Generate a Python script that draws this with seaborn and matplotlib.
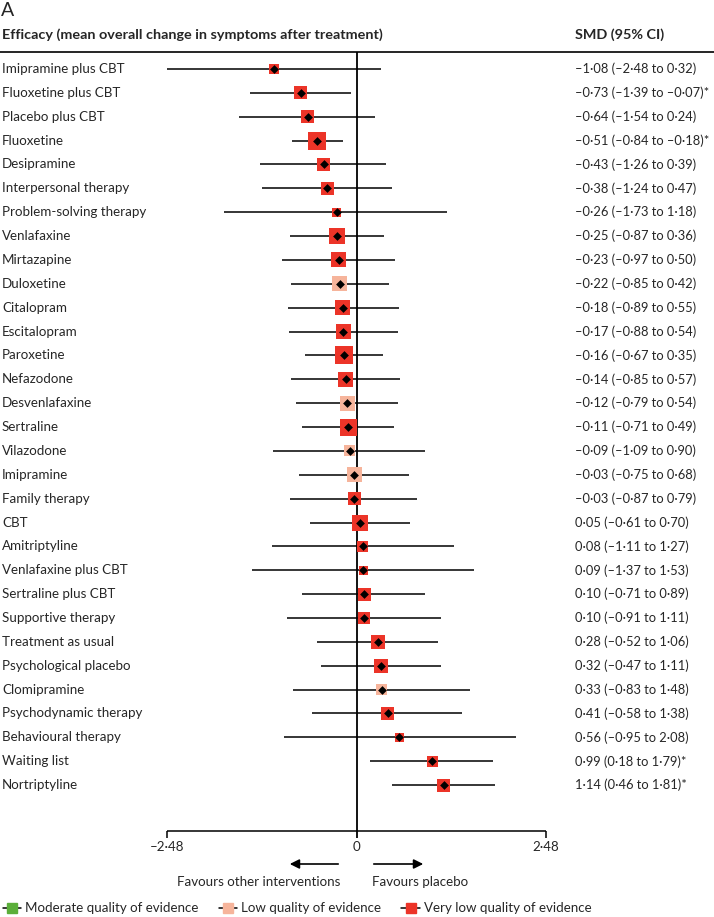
import pandas as pd
import matplotlib.pyplot as plt
from matplotlib.lines import Line2D
import seaborn as sns

treatments = [
    'Imipramine plus CBT', 'Fluoxetine plus CBT', 'Placebo plus CBT', 'Fluoxetine',
    'Desipramine', 'Interpersonal therapy', 'Problem-solving therapy', 'Venlafaxine',
    'Mirtazapine', 'Duloxetine', 'Citalopram', 'Escitalopram', 'Paroxetine',
    'Nefazodone', 'Desvenlafaxine', 'Sertraline', 'Vilazodone', 'Imipramine',
    'Family therapy', 'CBT', 'Amitriptyline', 'Venlafaxine plus CBT',
    'Sertraline plus CBT', 'Supportive therapy', 'Treatment as usual',
    'Psychological placebo', 'Clomipramine', 'Psychodynamic therapy',
    'Behavioural therapy', 'Waiting list', 'Nortriptyline',
]
smd = [-1.08, -0.73, -0.64, -0.51, -0.43, -0.38, -0.26, -0.25, -0.23, -0.22, -0.18,
       -0.17, -0.16, -0.14, -0.12, -0.11, -0.09, -0.03, -0.03, 0.05, 0.08, 0.09,
       0.10, 0.10, 0.28, 0.32, 0.33, 0.41, 0.56, 0.99, 1.14]
ci_low = [-2.48, -1.39, -1.54, -0.84, -1.26, -1.24, -1.73, -0.87, -0.97, -0.85, -0.89,
          -0.88, -0.67, -0.85, -0.79, -0.71, -1.09, -0.75, -0.87, -0.61, -1.11, -1.37,
          -0.71, -0.91, -0.52, -0.47, -0.83, -0.58, -0.95, 0.18, 0.46]
ci_high = [0.32, -0.07, 0.24, -0.18, 0.39, 0.47, 1.18, 0.36, 0.50, 0.42, 0.55,
           0.54, 0.35, 0.57, 0.54, 0.49, 0.90, 0.68, 0.79, 0.70, 1.27, 1.53,
           0.89, 1.11, 1.06, 1.11, 1.48, 1.38, 2.08, 1.79, 1.81]
quality = ['Very low'] * 9 + ['Low'] + ['Very low'] * 4 + ['Low', 'Very low', 'Low', 'Low'] \
    + ['Very low'] * 8 + ['Low'] + ['Very low'] * 4
# square side (weight), in pixels
weight = [10, 13, 13, 18, 13, 13, 9, 16, 15, 15, 15, 15, 18, 15, 15, 17, 11, 15, 13,
          16, 11, 9, 13, 12, 14, 14, 11, 13, 9, 11, 13]

quality_colors = {'Moderate': '#5BAF3A', 'Low': '#F6B49B', 'Very low': '#EC3428'}
quality_labels = {'Moderate': 'Moderate quality of evidence',
                  'Low': 'Low quality of evidence',
                  'Very low': 'Very low quality of evidence'}
axis_ticks = [-2.48, 0, 2.48]
tick_labels = ['\u20132\u00b748', '0', '2\u00b748']

df = pd.DataFrame({'treatment': treatments, 'smd': smd, 'lo': ci_low, 'hi': ci_high,
                   'quality': quality, 'weight': weight})
df['row'] = range(len(df))


def fmt(v):
    return f'{v:.2f}'.replace('-', '\u2013').replace('.', '\u00b7')


sns.set_theme(style='white')
plt.rcParams['font.family'] = ['Lato', 'DejaVu Sans']

fig = plt.figure(figsize=(7.14, 9.17), dpi=100)
ax = fig.add_axes([0, 0, 1, 1])

# layout in pixels -> data units
px = 76.5
x0 = 356.5
row_h = 23.87
def xp(p):
    return (p - x0) / px
def yp(p):
    return (p - 69) / row_h

ax.hlines(df['row'], df['lo'], df['hi'], color='black', lw=1.1, zorder=1)
ax.vlines(0, yp(52), yp(838), color='black', lw=1.3, zorder=1)
ax.hlines(yp(831), axis_ticks[0], axis_ticks[-1], color='black', lw=1.1)
ax.vlines([axis_ticks[0], axis_ticks[-1]], yp(831), yp(838), color='black', lw=1.1)

sns.scatterplot(data=df, x='smd', y='row', hue='quality', palette=quality_colors,
                size='weight', sizes={w: (w * 0.72) ** 2 for w in set(weight)},
                marker='s', linewidth=0, legend=False, ax=ax, zorder=2)
sns.scatterplot(data=df, x='smd', y='row', color='black', marker='D', s=20,
                linewidth=0, legend=False, ax=ax, zorder=3)

ax.set_xlim(xp(0), xp(714))
ax.set_ylim(yp(917), yp(0))
ax.axis('off')

fs = 9.6
for _, r in df.iterrows():
    ax.text(xp(2), r['row'], r['treatment'], fontsize=fs, va='center', ha='left')
    star = '*' if (r['hi'] < 0 or r['lo'] > 0) else ''
    ax.text(xp(575), r['row'],
            f"{fmt(r['smd'])} ({fmt(r['lo'])} to {fmt(r['hi'])}){star}",
            fontsize=9.3, va='center', ha='left')

for t, lab in zip(axis_ticks, tick_labels):
    ax.text(t, yp(847), lab, fontsize=fs, ha='center', va='center')

ax.text(xp(1), yp(11), 'A', fontsize=14, ha='left', va='center')
ax.text(xp(2), yp(35), 'Efficacy (mean overall change in symptoms after treatment)',
        fontsize=10.4, fontweight='bold', ha='left', va='center')
ax.text(xp(575), yp(35), 'SMD (95% CI)', fontsize=10.4, fontweight='bold',
        ha='left', va='center')
ax.hlines(yp(52), xp(0), xp(714), color='black', lw=1.2)

arrow = dict(arrowstyle='-|>', color='black', lw=1.2, mutation_scale=14)
ax.annotate('', xy=(xp(287), yp(864)), xytext=(xp(341), yp(864)), arrowprops=arrow)
ax.annotate('', xy=(xp(426), yp(864)), xytext=(xp(371), yp(864)), arrowprops=arrow)
ax.text(xp(340), yp(882), 'Favours other interventions', fontsize=fs, ha='right', va='center')
ax.text(xp(372), yp(882), 'Favours placebo', fontsize=fs, ha='left', va='center')

handles = [Line2D([0], [0], color='black', lw=1.1, marker='s', markersize=7,
                  markerfacecolor=c, markeredgecolor=c, label=quality_labels[q])
           for q, c in quality_colors.items()]
fig.legend(handles=handles, loc='lower left', bbox_to_anchor=(0.0, 0.0), ncol=3,
           frameon=False, fontsize=fs, handlelength=1.4, handletextpad=0.3,
           columnspacing=1.5, borderpad=0.1, borderaxespad=0.1)

fig.savefig('out.png', dpi=100)
